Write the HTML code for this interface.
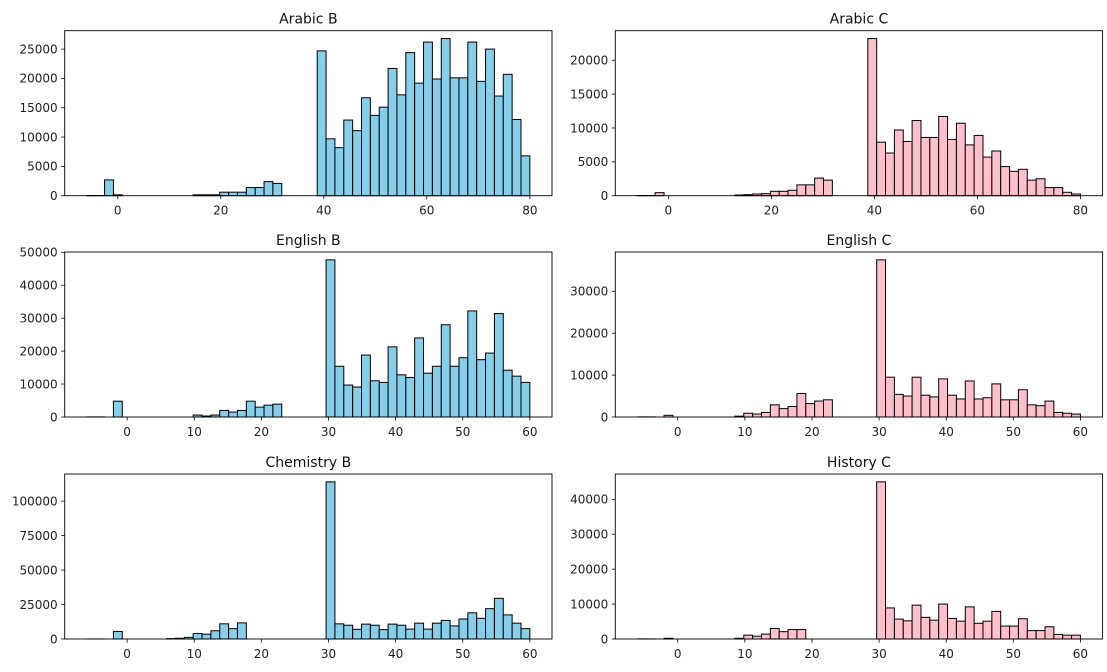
<!DOCTYPE html>
<html><head><meta charset="utf-8">
<style>
html,body{margin:0;padding:0;background:#fff;}
svg{display:block;font-family:"DejaVu Sans","Liberation Sans",sans-serif;}
</style></head>
<body>
<svg id="fig" width="1107" height="672" viewBox="0 0 1107 672" xmlns="http://www.w3.org/2000/svg"></svg>
<script>
const arabicBCounts=[30,30,2700,150,0,0,0,0,0,0,0,0,150,150,150,600,600,600,1400,1400,2400,2100,0,0,0,0,24700,9700,8200,12900,11100,16700,13700,15100,21700,17200,24400,19200,26200,19900,26800,20100,20100,26200,19500,25000,17000,20700,13000,6800];
const arabicCCounts=[30,30,450,0,0,0,0,0,0,0,0,100,150,250,300,650,650,800,1600,1600,2600,2300,0,0,0,0,23200,7900,6300,9700,8000,11100,8600,8600,11700,8300,10700,7500,8900,5700,6600,4300,3600,3900,2300,2500,1200,1200,500,250];
const englishBCounts=[30,30,0,4800,0,0,0,0,0,0,0,0,600,300,600,2000,1500,2000,4800,3000,3600,3900,0,0,0,0,0,47700,15400,9700,9100,18800,11000,10500,21300,12800,12000,24000,13300,15400,28000,15400,18000,32200,17400,19400,31400,14200,12400,10500];
const englishCCounts=[30,30,0,400,0,0,0,0,0,0,0,200,900,700,1100,2900,2000,2500,5600,3200,3800,4100,0,0,0,0,0,37500,9500,5400,5000,9500,5200,4800,9100,5200,4300,8600,4300,4600,7900,4100,4100,6500,2900,2700,3800,1100,900,700];
const chemistryBCounts=[30,30,0,5500,0,0,0,0,0,300,500,1200,4000,3500,6000,11000,7500,11700,0,0,0,0,0,0,0,0,0,114000,11000,10000,7000,10800,10000,6800,10800,10000,7200,11500,7200,11500,13500,9500,14500,19000,15000,22000,29500,17500,11500,7500];
const historyCCounts=[30,30,0,200,0,0,0,0,0,0,0,200,1100,800,1400,3000,2100,2700,2700,0,0,0,0,0,0,0,0,45000,8900,5700,5200,9700,6200,5400,10000,5900,5100,9200,4500,5100,7900,3700,3700,5800,2400,2400,3500,1300,1100,1100];
const titles=["Arabic B","Arabic C","English B","English C","Chemistry B","History C"];
const dataMin=[-6,-6,-6,-6,-6,-6];
const dataMax=[80,80,60,60,60,60];
const xTicks80=[0,20,40,60,80];
const xTicks60=[0,10,20,30,40,50,60];
const yTicksArabicB=[0,5000,10000,15000,20000,25000];
const yTicksArabicC=[0,5000,10000,15000,20000];
const yTicksEnglishB=[0,10000,20000,30000,40000,50000];
const yTicksEnglishC=[0,10000,20000,30000];
const yTicksChemistryB=[0,25000,50000,75000,100000];
const yTicksHistoryC=[0,10000,20000,30000,40000];

const svg=document.getElementById('fig');
const NS='http://www.w3.org/2000/svg';
function mk(tag,attrs,parent){const e=document.createElementNS(NS,tag);for(const k in attrs)e.setAttribute(k,attrs[k]);parent.appendChild(e);return e;}

const panels=[
 {counts:arabicBCounts,xt:xTicks80,yt:yTicksArabicB,fill:'#87CEEB',L:64.7,T:30.7},
 {counts:arabicCCounts,xt:xTicks80,yt:yTicksArabicC,fill:'#FFC0CB',L:615.3,T:30.7},
 {counts:englishBCounts,xt:xTicks60,yt:yTicksEnglishB,fill:'#87CEEB',L:64.7,T:252},
 {counts:englishCCounts,xt:xTicks60,yt:yTicksEnglishC,fill:'#FFC0CB',L:615.3,T:252},
 {counts:chemistryBCounts,xt:xTicks60,yt:yTicksChemistryB,fill:'#87CEEB',L:64.7,T:474},
 {counts:historyCCounts,xt:xTicks60,yt:yTicksHistoryC,fill:'#FFC0CB',L:615.3,T:474}
];
const W=487.3,H=165;
const slugs=['arabic-b','arabic-c','english-b','english-c','chemistry-b','history-c'];
panels.forEach((p,pi)=>{
  const g=mk('g',{},svg);
  
  
  const mn=dataMin[pi],mx=dataMax[pi],span=mx-mn;
  const x0=mn-0.05*span,x1=mx+0.05*span;
  const ymax=Math.max(...p.counts)*1.05;
  const sx=v=>p.L+(v-x0)/(x1-x0)*W;
  const sy=v=>p.T+H-(v/ymax)*H;
  const n=p.counts.length,bw=span/n;
  p.counts.forEach((c,i)=>{
    const a=sx(mn+i*bw),b=sx(mn+(i+1)*bw);
    const r=mk('rect',{x:a,y:sy(c),width:b-a,height:sy(0)-sy(c),fill:p.fill,stroke:'#000','stroke-width':1},g);
    
    
  });
  const frame=mk('rect',{x:p.L,y:p.T,width:W,height:H,fill:'none',stroke:'#000','stroke-width':0.9},g);
  
  
  p.xt.forEach(t=>{
    const x=sx(t);
    mk('line',{x1:x,x2:x,y1:p.T+H,y2:p.T+H+3.5,stroke:'#000','stroke-width':0.8},g);
    const tx=mk('text',{x:x,y:p.T+H+19,'font-size':12,'text-anchor':'middle',fill:'#222'},g);
    tx.textContent=t;
    
    
  });
  p.yt.forEach(t=>{
    const y=sy(t);
    mk('line',{x1:p.L-3.5,x2:p.L,y1:y,y2:y,stroke:'#000','stroke-width':0.8},g);
    const ty=mk('text',{x:p.L-7,y:y+4.3,'font-size':12,'text-anchor':'end',fill:'#222'},g);
    ty.textContent=t;
    
    
  });
  const tt=mk('text',{x:p.L+W/2,y:p.T-7,'font-size':14,'text-anchor':'middle',fill:'#111'},g);
  tt.textContent=titles[pi];
  
  
});
</script>
</body></html>
